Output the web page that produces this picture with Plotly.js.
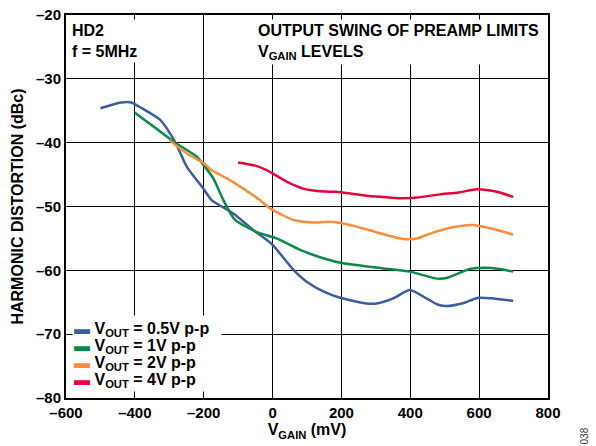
<!DOCTYPE html>
<html>
<head>
<meta charset="utf-8">
<script src="https://cdn.plot.ly/plotly-3.0.1.min.js"></script>
<style>html,body{margin:0;padding:0;background:#fff;}#chart{width:596px;height:446px;}</style>
</head>
<body>
<div id="chart"></div>
<script>
// Series names
const seriesNames = [
  "V<sub>OUT</sub> = 0.5V p-p",
  "V<sub>OUT</sub> = 1V p-p",
  "V<sub>OUT</sub> = 2V p-p",
  "V<sub>OUT</sub> = 4V p-p"
];
// VOUT = 0.5V p-p
const blueX = [-500,-440,-410,-380,-327,-283,-249,-201,-177,-114,-56,0,60,99,147,196,273,302,350,399,447,481,506,550,598,641,699];
const blueY = [-34.6,-33.7,-33.7,-34.6,-36.4,-39.9,-43.8,-47.2,-49.0,-51.1,-53.7,-56.0,-59.9,-61.8,-63.3,-64.3,-65.2,-65.2,-64.4,-63.1,-64.4,-65.4,-65.6,-65.2,-64.3,-64.4,-64.8];
// VOUT = 1V p-p
const greenX = [-400,-340,-283,-220,-196,-172,-143,-109,-46,12,80,147,205,322,399,477,506,573,617,660,699];
const greenY = [-35.3,-37.7,-40.0,-42.2,-43.8,-45.6,-49.0,-52.1,-54.0,-55.0,-56.8,-58.1,-58.9,-59.7,-60.2,-61.3,-61.2,-59.8,-59.6,-59.8,-60.2];
// VOUT = 2V p-p
const orangeX = [-300,-249,-201,-177,-133,-85,-37,-7,60,118,167,225,293,340,380,419,460,496,540,583,622,660,699];
const orangeY = [-39.6,-41.7,-43.2,-44.3,-45.6,-47.2,-49.0,-50.3,-52.1,-52.5,-52.4,-52.9,-53.9,-54.6,-55.1,-55.0,-54.2,-53.6,-53.1,-52.9,-53.3,-53.8,-54.4];
// VOUT = 4V p-p
const redX = [-100,-50,-17,41,89,118,167,186,230,273,320,370,420,486,540,593,622,660,699];
const redY = [-43.1,-43.6,-44.3,-46.1,-47.2,-47.5,-47.7,-47.7,-48.0,-48.3,-48.5,-48.7,-48.6,-48.1,-47.8,-47.3,-47.4,-47.8,-48.5];

// Tick labels
const xTickVals = [-600,-400,-200,0,200,400,600,800];
const xTickText = ["–600","–400","–200","0","200","400","600","800"];
const yTickVals = [-80,-70,-60,-50,-40,-30,-20];
const yTickText = ["–80","–70","–60","–50","–40","–30","–20"];

const colors = ["#3B5DA0","#0A8A46","#F98D3C","#E2063C"];
const xs = [blueX, greenX, orangeX, redX];
const ys = [blueY, greenY, orangeY, redY];

const FONT = "Arial, 'Liberation Sans', Helvetica, sans-serif";

const traces = xs.map((x, i) => ({
  x: x, y: ys[i], type: "scatter", mode: "lines",
  name: seriesNames[i],
  line: {color: colors[i], width: 2.5, shape: "spline", smoothing: 0.6}
}));

// legend: one white backing box, then rows drawn as text entries with tight spacing
const legendBack = {
  xref: "paper", yref: "paper", x: 0.012, y: 0.0157, xanchor: "left", yanchor: "bottom",
  showarrow: false, text: " ", width: 148, height: 75, bgcolor: "#fff", borderpad: 0,
  font: {family: FONT, size: 16}
};
const legendTop = 0.178, legendStep = 0.0438;
const legendAnns = seriesNames.map((n, i) => ({
  xref: "paper", yref: "paper", x: 0.012, y: legendTop - i * legendStep,
  xanchor: "left", yanchor: "middle", align: "left", showarrow: false,
  borderpad: 1,
  text: "<span style='color:" + colors[i] + "'>▬</span> " + n,
  font: {family: FONT, size: 16, color: "#000", weight: "bold"}
}));

const layout = {
  width: 596, height: 446,
  margin: {l: 66, r: 48, t: 15, b: 48, pad: 0},
  paper_bgcolor: "#fff", plot_bgcolor: "#fff",
  font: {family: FONT, size: 15, color: "#000", weight: "bold"},
  showlegend: false,
  xaxis: {
    range: [-600, 800], tickvals: xTickVals, ticktext: xTickText,
    showgrid: true, gridcolor: "#000", gridwidth: 1,
    showline: true, linecolor: "#000", linewidth: 2, mirror: true,
    zeroline: false, ticks: "",
    tickfont: {family: FONT, size: 15, color: "#000", weight: "bold"},
    title: {text: "V<sub>GAIN</sub> (mV)", standoff: 4,
            font: {family: FONT, size: 16, color: "#000", weight: "bold"}}
  },
  yaxis: {
    range: [-80, -20], tickvals: yTickVals, ticktext: yTickText,
    showgrid: true, gridcolor: "#000", gridwidth: 1,
    showline: true, linecolor: "#000", linewidth: 2, mirror: true,
    zeroline: false, ticks: "",
    tickfont: {family: FONT, size: 15, color: "#000", weight: "bold"},
    title: {text: "HARMONIC DISTORTION (dBc)", standoff: 8,
            font: {family: FONT, size: 16, color: "#000", weight: "bold"}}
  },
  annotations: [
    {xref: "paper", yref: "paper", x: 0.006, y: 0.99, xanchor: "left", yanchor: "top",
     align: "left", showarrow: false, bgcolor: "#fff", borderpad: 2,
     text: "HD2<br>f = 5MHz",
     font: {family: FONT, size: 16, color: "#000", weight: "bold"}},
    {xref: "paper", yref: "paper", x: 0.392, y: 0.99, xanchor: "left", yanchor: "top",
     align: "left", showarrow: false, bgcolor: "#fff", borderpad: 2,
     text: "OUTPUT SWING OF PREAMP LIMITS<br>V<sub>GAIN</sub> LEVELS",
     font: {family: FONT, size: 16, color: "#000", weight: "bold"}},
    {xref: "paper", yref: "paper", x: 1.075, y: -0.1, xanchor: "center", yanchor: "middle",
     showarrow: false, textangle: -90, text: "038",
     font: {family: FONT, size: 10, color: "#333", weight: "normal"}},
    legendBack
  ].concat(legendAnns)
};

Plotly.newPlot("chart", traces, layout, {staticPlot: true, displayModeBar: false});
</script>
</body>
</html>
